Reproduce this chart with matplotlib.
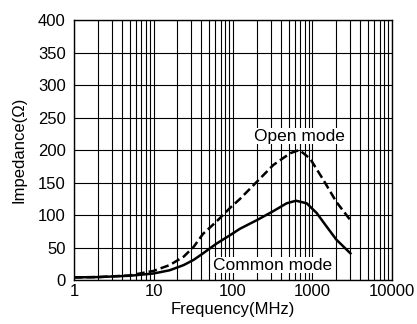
import numpy as np
import matplotlib.pyplot as plt
from matplotlib.ticker import FixedLocator, NullFormatter

plt.rcParams["font.family"] = ["Liberation Sans", "DejaVu Sans"]

# Open mode (dashed)
freq_open = [1, 2, 5, 10, 16, 24, 32, 42, 62, 92, 123, 199, 322, 523, 683, 930, 1370, 2000, 3000]
imp_open = [4, 4.5, 7, 14, 23, 36, 51, 71, 90, 111, 125, 151, 177, 195, 200, 187, 154, 120, 92]

# Common mode (solid)
freq_common = [1, 2, 5, 10, 16, 24, 32, 42, 62, 92, 123, 199, 322, 473, 620, 846, 1130, 1510, 2000, 3000]
imp_common = [4, 4.5, 6.5, 10, 15, 23, 31, 41, 56, 69, 79, 92, 106, 118, 122, 118, 103, 82, 62, 41]

fig = plt.figure(figsize=(4.17, 3.24), dpi=100)
ax = fig.add_axes([0.1775, 0.1358, 0.7625, 0.8024])

ax.plot(freq_open, imp_open, color="black", linestyle=(0, (3.4, 1.6)), linewidth=1.8, zorder=3)
ax.plot(freq_common, imp_common, color="black", linewidth=1.8, zorder=3)

ax.set_xscale("log")
ax.set_xlim(1, 10000)
ax.set_ylim(0, 400)
ax.set_xticks([1, 10, 100, 1000, 10000])
ax.set_xticklabels(["1", "10", "100", "1000", "10000"])
ax.xaxis.set_minor_locator(FixedLocator([m * 10**d for d in range(4) for m in range(2, 10)]))
ax.xaxis.set_minor_formatter(NullFormatter())
ax.set_yticks(range(0, 401, 50))

ax.grid(True, which="both", color="black", linewidth=0.8)
ax.tick_params(which="both", length=0, labelsize=12)
ax.tick_params(axis="y", pad=6)
ax.tick_params(axis="x", pad=3)
for s in ax.spines.values():
    s.set_linewidth(1.0)

ax.set_xlabel("Frequency(MHz)", fontsize=12, labelpad=2)
ax.set_ylabel("Impedance(\u03a9)", fontsize=12, labelpad=8)

ax.text(690, 210, "Open mode", fontsize=12.5, ha="center", va="bottom",
        bbox=dict(facecolor="white", edgecolor="none", pad=0.5), zorder=4)
ax.text(315, 23, "Common mode", fontsize=12.5, ha="center", va="center",
        bbox=dict(facecolor="white", edgecolor="none", pad=0.5), zorder=4)

plt.savefig("out.png", dpi=100)
